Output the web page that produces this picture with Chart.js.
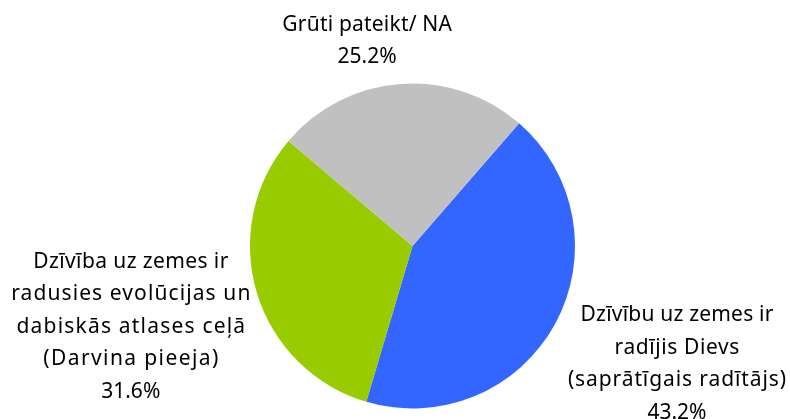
<html>
<head>
    <meta charset="utf-8">
    <title>pie</title>
    <style>
        body { margin: 0; background: #fff; }
        #wrap { width: 790px; height: 419px; }
    </style>
</head>
<body>
<script src="https://cdn.jsdelivr.net/npm/chart.js@4/dist/chart.umd.min.js"></script>

<div id="wrap"><canvas id="pie"></canvas></div>

<script>
    // categories (split into label lines) and shares in %
    const categories = [
        ['Dzīvību uz zemes ir', 'radījis Dievs', '(saprātīgais radītājs)'],
        ['Dzīvība uz zemes ir', 'radusies evolūcijas un', 'dabiskās atlases ceļā', '(Darvina pieeja)'],
        ['Grūti pateikt/ NA']
    ];
    const shares = [43.2, 31.6, 25.2];
    const colors = ['#3366FF', '#99CC00', '#C0C0C0'];

    // label box offset from the slice's outer edge at mid angle
    const labelOffsets = [[122, 40], [-126, 34.5], [-33, -43]];
    // excel stretches the wrapped lines a bit
    const lineSpacing = [[0.2, 0.6, 0.9], [0.4, 1.1, 1.2, 1.4], [0.2]];

    const pieLabels = {
        id: 'pieLabels',
        afterDatasetsDraw(chart) {
            const ctx = chart.ctx;
            const meta = chart.getDatasetMeta(0);
            ctx.save();
            ctx.font = '21px "Noto Sans"';
            ctx.fillStyle = '#000';
            ctx.textAlign = 'center';
            ctx.textBaseline = 'middle';
            const lh = 32.5;
            meta.data.forEach((arc, i) => {
                const mid = (arc.startAngle + arc.endAngle) / 2;
                const ex = arc.x + Math.cos(mid) * arc.outerRadius;
                const ey = arc.y + Math.sin(mid) * arc.outerRadius;
                const lines = categories[i].concat([shares[i].toFixed(1) + '%']);
                const cx = ex + labelOffsets[i][0];
                const cy = ey + labelOffsets[i][1];
                const top = cy - (lines.length - 1) * lh / 2;
                lines.forEach((t, j) => {
                    const ls = lineSpacing[i][j] || 0;
                    ctx.letterSpacing = ls + 'px';
                    ctx.fillText(t, cx + ls / 2, top + j * lh);
                });
            });
            ctx.restore();
        }
    };

    new Chart(document.getElementById('pie'), {
        type: 'pie',
        data: {
            labels: categories.map(c => c.join(' ')),
            datasets: [{
                data: shares,
                backgroundColor: colors,
                borderWidth: 0
            }]
        },
        options: {
            responsive: true,
            maintainAspectRatio: false,
            animation: false,
            rotation: 41,
            layout: { padding: { left: 250, right: 215, top: 83.5, bottom: 10.5 } },
            plugins: {
                legend: { display: false },
                tooltip: { enabled: false }
            }
        },
        plugins: [pieLabels]
    });
</script>
</body>
</html>
